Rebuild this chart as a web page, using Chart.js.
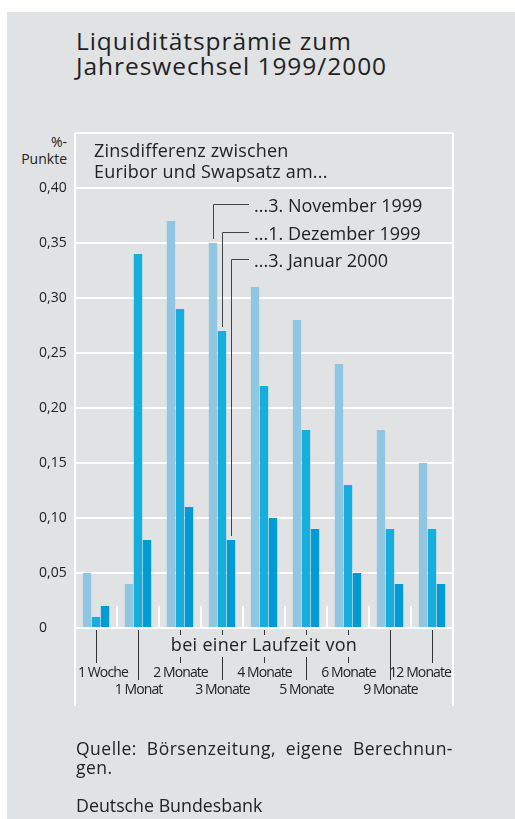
<!DOCTYPE html>
<html lang="de">
<head>
<meta charset="utf-8">
<title>Liquiditätsprämie zum Jahreswechsel 1999/2000</title>
<script src="https://cdn.jsdelivr.net/npm/chart.js@4.4.1/dist/chart.umd.min.js"></script>
<style>
  html, body { margin: 0; padding: 0; background: #fff; }
  #page { position: relative; width: 515px; height: 819px; overflow: hidden;
          font-family: 'Open Sans', sans-serif; color: #222; }
  #panel { position: absolute; left: 7px; top: 12px; right: 0; bottom: 0; background: #e1e2e4; }
  #title { position: absolute; left: 76px; top: 28px; font-size: 24.5px; line-height: 25px;
           letter-spacing: 0.95px; white-space: nowrap; }
  #unit { position: absolute; left: 0; top: 133px; width: 67px; text-align: right;
          font-size: 14px; line-height: 17px; }
  #source { position: absolute; left: 76px; top: 739px; width: 377px; font-size: 17.5px; line-height: 19px;
            letter-spacing: 0.5px; }
  #source .just { text-align: justify; text-align-last: justify; }
  #source .bank { margin-top: 19px; font-size: 17.8px; letter-spacing: 0; }
  .chart-wrap { position: absolute; left: 0; top: 0; width: 515px; height: 819px; }
</style>
</head>
<body>
<div id="page">
  <div id="panel"></div>
  <div id="title">Liquiditätsprämie zum<br>Jahreswechsel 1999/2000</div>
  <div id="unit">%-<br>Punkte</div>
  <div class="chart-wrap"><canvas id="chart"></canvas></div>
  <div id="source">
    <div class="just">Quelle: Börsenzeitung, eigene Berechnun-</div>
    <div>gen.</div>
    <div class="bank">Deutsche Bundesbank</div>
  </div>
</div>
<script>
// ----- データ -----
const categories = ['1 Woche', '1 Monat', '2 Monate', '3 Monate', '4 Monate',
                    '5 Monate', '6 Monate', '9 Monate', '12 Monate'];
const seriesNames = ['...3. November 1999', '...1. Dezember 1999', '...3. Januar 2000'];
const nov1999 = [0.05, 0.04, 0.37, 0.35, 0.31, 0.28, 0.24, 0.18, 0.15];
const dez1999 = [0.01, 0.34, 0.29, 0.27, 0.22, 0.18, 0.13, 0.09, 0.09];
const jan2000 = [0.02, 0.08, 0.11, 0.08, 0.10, 0.09, 0.05, 0.04, 0.04];
const introLines = ['Zinsdifferenz zwischen', 'Euribor und Swapsatz am...'];
const axisTitle = 'bei einer Laufzeit von';
const yMax = 0.45;
const yStep = 0.05;
const labelledCategory = '3 Monate';   // 凡例の引き出し線が指すカテゴリ

const colors = ['#90c6e2', '#16aedc', '#009ad4'];
const textColor = '#222';
const FONT = '"Open Sans", sans-serif';

// 装飾：区切り線、枠線の延長、引き出し線、軸下のラベル
const decor = {
  id: 'decor',
  beforeDatasetsDraw(chart) {
    const { ctx, chartArea: a, scales: { x, y } } = chart;
    ctx.save();
    ctx.strokeStyle = '#fff';
    ctx.lineWidth = 2;
    ctx.beginPath();
    [a.left, a.right].forEach(px => { ctx.moveTo(px, a.top); ctx.lineTo(px, a.bottom + 78); });
    const sepTop = y.getPixelForValue(0.02);
    for (let i = 1; i < categories.length; i++) {
      const px = Math.round((x.getPixelForValue(i - 1) + x.getPixelForValue(i)) / 2);
      ctx.moveTo(px, sepTop);
      ctx.lineTo(px, a.bottom);
    }
    ctx.stroke();
    ctx.restore();
  },
  afterDatasetsDraw(chart) {
    const { ctx, chartArea: a, scales: { x } } = chart;
    ctx.save();
    ctx.fillStyle = textColor;
    ctx.textBaseline = 'alphabetic';

    // 説明文
    ctx.font = '18px ' + FONT;
    ctx.letterSpacing = '0.2px';
    introLines.forEach((t, i) => ctx.fillText(t, a.left + 19, a.top + 24 + i * 21));
    ctx.letterSpacing = '0px';

    // 凡例と引き出し線
    const idx = categories.indexOf(labelledCategory);
    const labelX = a.left + 179;
    ctx.strokeStyle = '#444';
    ctx.lineWidth = 1;
    seriesNames.forEach((name, d) => {
      const bar = chart.getDatasetMeta(d).data[idx];
      const ly = Math.round(a.top + 71 + d * 27.5) + 0.5;
      const bx = Math.round(bar.x) + 0.5;
      ctx.beginPath();
      ctx.moveTo(bx, bar.y - 4);
      ctx.lineTo(bx, ly);
      ctx.lineTo(labelX - 5, ly);
      ctx.stroke();
      ctx.fillText(name, labelX, ly + 7);
    });

    // 軸タイトル
    ctx.font = '18px ' + FONT;
    ctx.letterSpacing = '0.3px';
    ctx.textAlign = 'center';
    const cx = (a.left + a.right) / 2;
    const tw = ctx.measureText(axisTitle).width;
    ctx.fillText(axisTitle, cx, a.bottom + 23);
    ctx.letterSpacing = '0px';
    const gapL = cx - tw / 2 - 6, gapR = cx + tw / 2 + 6;

    // 目盛り線とカテゴリラベル
    ctx.strokeStyle = '#333';
    ctx.font = '14px ' + FONT;
    ctx.letterSpacing = '-0.9px';
    categories.forEach((lab, i) => {
      const px = Math.round(x.getPixelForValue(i)) + 0.5;
      const lower = i % 2 === 1;
      const end = a.bottom + (lower ? 52 : 35);
      ctx.beginPath();
      if (px > gapL && px < gapR) {
        ctx.moveTo(px, a.bottom + 2); ctx.lineTo(px, a.bottom + 7);
        ctx.moveTo(px, a.bottom + 29); ctx.lineTo(px, end);
      } else {
        ctx.moveTo(px, a.bottom + 2); ctx.lineTo(px, end);
      }
      ctx.stroke();
      let tx = px, align = 'center';
      if (i === 0) { tx = a.left + 3; align = 'left'; }
      if (i === categories.length - 1) { tx = a.right - 2; align = 'right'; }
      ctx.textAlign = align;
      ctx.fillText(lab, tx, a.bottom + (lower ? 66 : 49));
    });
    ctx.restore();
  }
};

const datasets = [nov1999, dez1999, jan2000].map((vals, d) => ({
  label: seriesNames[d],
  data: vals,
  backgroundColor: colors[d],
  borderWidth: 0,
  categoryPercentage: 0.643,
  barPercentage: 0.93,
}));

new Chart(document.getElementById('chart'), {
  type: 'bar',
  data: { labels: categories, datasets },
  plugins: [decor],
  options: {
    responsive: true,
    maintainAspectRatio: false,
    animation: false,
    layout: { padding: { left: 39, top: 133, right: 62, bottom: 191 } },
    plugins: { legend: { display: false }, tooltip: { enabled: false } },
    scales: {
      x: {
        grid: { display: false },
        border: { display: false },
        ticks: { display: false },
        afterFit: s => { s.height = 0; }
      },
      y: {
        min: 0, max: yMax,
        grid: { color: '#fff', lineWidth: 2, drawTicks: false },
        border: { display: false },
        afterFit: s => { s.width = 36; },
        ticks: {
          stepSize: yStep,
          crossAlign: 'far',
          color: textColor,
          font: { family: 'Open Sans', size: 14 },
          callback: v => {
            if (Math.abs(v - yMax) < 1e-9) return '';
            if (v === 0) return '0';
            return v.toFixed(2).replace('.', ',');
          }
        }
      }
    }
  }
});
</script>
</body>
</html>
